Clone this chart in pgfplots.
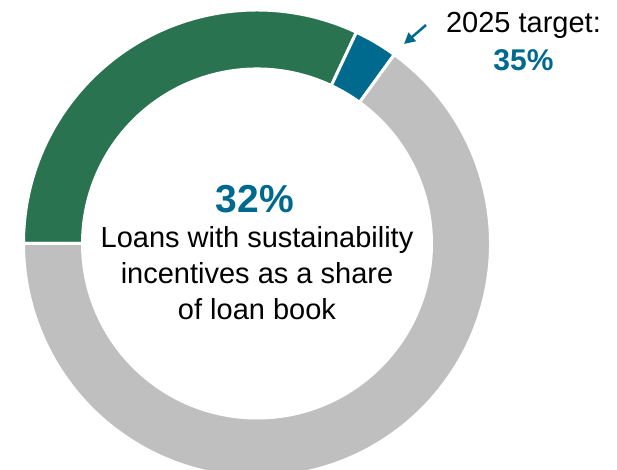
\documentclass[border=0pt]{standalone}
\usepackage{pgfplots}
\pgfplotsset{compat=1.18}
\usepackage{pgfplotstable}
\usepackage{fontspec}
\setmainfont{Liberation Sans}
\usetikzlibrary{arrows.meta}
\definecolor{dgreen}{HTML}{2A7351}
\definecolor{dblue}{HTML}{006A8E}
\definecolor{lgray}{HTML}{BFBFBF}
\pgfplotstableread{
label value color
Sustainable 32 dgreen
Target 3 dblue
Other 65 lgray
}\donutdata
\begin{document}
\begin{tikzpicture}
\begin{axis}[
  width=617pt, height=470pt, scale only axis,
  xmin=0, xmax=617, ymin=0, ymax=470,
  hide axis, clip=true,
]
\def\cx{257}\def\cy{226.5}
\def\Ro{233.5}\def\Ri{174.5}
\def\cum{0}
\pgfplotsforeachungrouped \i in {0,1,2}{%
  \pgfplotstablegetelem{\i}{value}\of\donutdata \let\v\pgfplotsretval
  \pgfplotstablegetelem{\i}{color}\of\donutdata \let\c\pgfplotsretval
  \pgfmathsetmacro\a{180-3.6*\cum}%
  \pgfmathsetmacro\b{180-3.6*(\cum+\v)}%
  \pgfmathsetmacro\cum{\cum+\v}%
  \pgfmathsetmacro\th{\Ro-\Ri}%
  \edef\temp{\noexpand\fill[\c, draw=white, line width=3pt]
    (axis cs:\cx,\cy) ++(\a:\Ro pt) arc[start angle=\a, end angle=\b, radius=\Ro pt]
    -- ++(\b:-\th pt) arc[start angle=\b, end angle=\a, radius=\Ri pt] -- cycle;}%
  \temp
}
\node[anchor=base, text=dblue, font=\fontsize{39}{44}\selectfont\bfseries] at (axis cs:255,257.7) {32\%};
\node[anchor=base, font=\fontsize{29}{36}\selectfont] at (axis cs:257,222.7) {Loans with sustainability};
\node[anchor=base, font=\fontsize{29}{36}\selectfont] at (axis cs:257,186.7) {incentives as a share};
\node[anchor=base, font=\fontsize{29}{36}\selectfont] at (axis cs:257,150.7) {of loan book};
\node[anchor=base, font=\fontsize{29}{36}\selectfont] at (axis cs:523.5,437) {2025 target:};
\node[anchor=base, text=dblue, font=\fontsize{30}{36}\selectfont\bfseries] at (axis cs:523.5,399.3) {35\%};
\draw[dblue, line width=2.5pt, -{Triangle[length=11pt,width=11pt]}] (axis cs:426,445) -- (axis cs:404,426);
\end{axis}
\pgfresetboundingbox
\useasboundingbox (current axis.south west) rectangle (current axis.north east);
\end{tikzpicture}
\end{document}
